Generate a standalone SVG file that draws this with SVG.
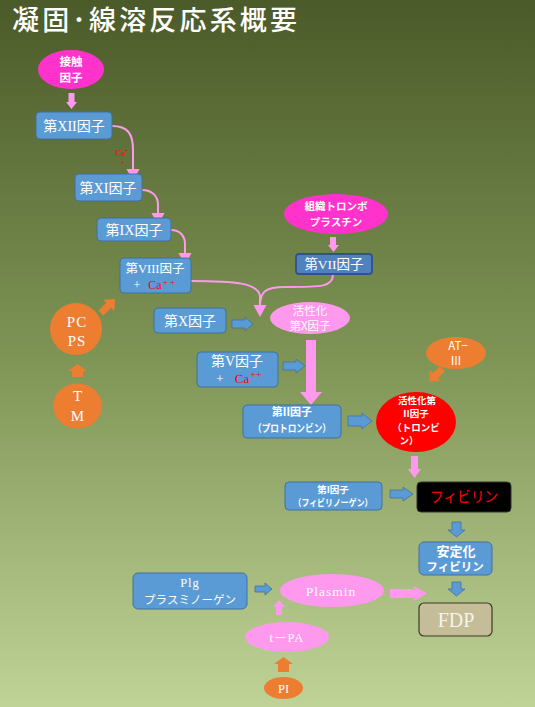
<svg xmlns="http://www.w3.org/2000/svg" width="535" height="707" viewBox="0 0 535 707">
<defs>
<linearGradient id="bg" x1="0" y1="0" x2="0" y2="1">
<stop offset="0" stop-color="#4b5a29"/>
<stop offset="0.5" stop-color="#7e9455"/>
<stop offset="1" stop-color="#bfd396"/>
</linearGradient>
<style>
.box{fill:#5b9bd5;stroke:#41719c;stroke-width:1}
.t{font-family:"Liberation Serif","Noto Sans CJK JP",serif;fill:#fff;text-anchor:middle}
.g{font-family:"Noto Sans CJK JP","Liberation Sans",sans-serif;fill:#fff;text-anchor:middle}
.red{fill:#ff0000}
.pink{fill:#ff99ee}
.mag{fill:#ff33cc}
.org{fill:#ed7d31}
.barr{fill:#5b9bd5;stroke:#41719c;stroke-width:0.8}
.pline{fill:none;stroke:#ff99ee;stroke-width:2}
</style>
</defs>
<rect x="0" y="0" width="535" height="707" fill="url(#bg)"/>
<text x="12" y="30" font-family="Noto Sans CJK JP, sans-serif" font-size="27" font-weight="500" fill="#fff" textLength="285">凝固･線溶反応系概要</text>

<g id="connectors">
<path class="pline" d="M112,126 C128,126 133,134 133,150 L133,170"/>
<polygon class="pink" points="126.5,169 139.5,169 133,181"/>
<path class="pline" d="M142,190 C152,190 158,196 158,205 L158,214"/>
<polygon class="pink" points="151.5,213 164.5,213 158,225"/>
<path class="pline" d="M171,230 C180,230 185,236 185,244 L185,254"/>
<polygon class="pink" points="178.5,253 191.5,253 185,265"/>
<path class="pline" d="M191,281 C235,281 258,283 260,296 L260,306"/>
<path class="pline" d="M333,274 C333,287 322,287 285,287 C265,287 260,292 260,306"/>
<polygon class="pink" points="253.5,305 266.5,305 260,317"/>
<polygon class="pink" points="68.5,93 74.5,93 74.5,102 77,102 71.5,109 66,102 68.5,102"/>
<polygon class="pink" points="330,237 336,237 336,245 339,245 333.5,252 328,245 330,245"/>
<polygon class="pink" points="306,340 316,340 316,392 322,392 311,405 300,392 306,392"/>
<polygon class="pink" points="411,456 418,456 418,469 421,469 414.5,478 408,469 411,469"/>
<polygon class="pink" points="390,589 414,589 414,586 427,593.5 414,601 414,598 390,598"/>
<polygon class="pink" points="276,615 282,615 282,607 285,607 279,600 273,607 276,607"/>
<polygon class="barr" points="232,320 245,320 245,317 253,324 245,331 245,328 232,328"/>
<polygon class="barr" points="283,362 296,362 296,359 305,366 296,373 296,370 283,370"/>
<polygon class="barr" points="348,416 362,416 362,413 372,421 362,429 362,426 348,426"/>
<polygon class="barr" points="390,490 403,490 403,487 413,494 403,501 403,498 390,498"/>
<polygon class="barr" points="452,522 461,522 461,530 465,530 456.5,537 448,530 452,530"/>
<polygon class="barr" points="452,582 461,582 461,589 465,589 456.5,596 448,589 452,589"/>
<polygon class="barr" points="255,586 265,586 265,583 272,589 265,595 265,592 255,592"/>
<polygon class="org" points="72,377 83,377 83,371 87,371 77.5,364 68,371 72,371"/>
<polygon class="org" points="278,672 289,672 289,664 293,664 283.5,657 274,664 278,664"/>
<polygon class="org" transform="translate(108,306) rotate(-45)" points="-10,-3.5 1,-3.5 1,-8 10,0 1,8 1,3.5 -10,3.5"/>
<polygon class="org" transform="translate(436,375) rotate(135)" points="-9,-3.5 1,-3.5 1,-8 9,0 1,8 1,3.5 -9,3.5"/>
<text x="122" y="156" font-family="Liberation Serif, serif" font-size="8.5" fill="#ff0000" text-anchor="middle">Ca<tspan dy="-3" font-size="6">+</tspan></text>
<text x="123" y="165" font-family="Liberation Serif, serif" font-size="6" fill="#ff0000" text-anchor="middle">+</text>
</g>

<g id="n-contact"><ellipse class="mag" cx="71" cy="69.5" rx="33" ry="19.5"/><text class="g" x="71" y="66" font-size="11.5" font-weight="bold">接触</text><text class="g" x="71" y="82" font-size="11.5" font-weight="bold">因子</text></g>
<g id="n-xii"><rect class="box" x="36" y="112" width="76" height="27" rx="4"/><text class="t" x="74" y="131" font-size="14">第XII因子</text></g>
<g id="n-xi"><rect class="box" x="75" y="174" width="67" height="27" rx="4"/><text class="t" x="108" y="193" font-size="14">第XI因子</text></g>
<g id="n-ix"><rect class="box" x="97" y="218" width="74" height="23" rx="4"/><text class="t" x="134" y="235" font-size="14">第IX因子</text></g>
<g id="n-viii"><rect class="box" x="120" y="258" width="71" height="35" rx="4"/><text class="t" x="155" y="273" font-size="12.5">第VIII因子</text><text class="t" x="137" y="289" font-size="12">+</text><text class="t" x="155" y="289" font-size="12" style="fill:#ff0000">Ca</text><text class="t" x="169" y="285" font-size="9" style="fill:#ff0000">+ +</text></g>
<g id="n-tissue"><ellipse class="mag" cx="336" cy="214" rx="52" ry="20"/><text class="g" x="336" y="210" font-size="10.5" font-weight="bold">組織トロンボ</text><text class="g" x="336" y="226" font-size="10.5" font-weight="bold">プラスチン</text></g>
<g id="n-vii"><rect x="296" y="254" width="76" height="20" rx="3" fill="#4f81bd" stroke="#2f528f" stroke-width="1.8"/><text class="t" x="334" y="269" font-size="13.5">第VII因子</text></g>
<g id="n-x"><rect class="box" x="154" y="308" width="72" height="25" rx="4"/><text class="t" x="190" y="326" font-size="14">第X因子</text></g>
<g id="n-xa"><ellipse class="pink" cx="310" cy="318" rx="40" ry="16"/><text class="g" x="310" y="314.5" font-size="11.5">活性化</text><text class="g" x="310" y="329.5" font-size="11.5">第X因子</text></g>
<g id="n-v"><rect class="box" x="197" y="352" width="81" height="35" rx="4"/><text class="t" x="237" y="366" font-size="14">第V因子</text><text class="t" x="220" y="383" font-size="13">+</text><text class="t" x="242" y="383" font-size="13" style="fill:#ff0000">Ca</text><text class="t" x="256" y="378" font-size="10" style="fill:#ff0000">++</text></g>
<g id="n-ii"><rect class="box" x="243" y="405" width="98" height="33" rx="4"/><text class="g" x="292" y="416" font-size="11" font-weight="bold">第II因子</text><text class="g" x="292" y="432" font-size="10.5" font-weight="bold" textLength="78" lengthAdjust="spacingAndGlyphs">（プロトロンビン）</text></g>
<g id="n-at"><ellipse class="org" cx="456" cy="353" rx="30" ry="16"/><text class="g" x="458" y="349.5" font-size="11.5">AT−</text><text class="g" x="456" y="364.5" font-size="11.5">Ⅲ</text></g>
<g id="n-thrombin"><ellipse class="red" cx="416" cy="422" rx="40" ry="30"/><text class="g" x="417" y="404" font-size="9.5" font-weight="bold">活性化第</text><text class="g" x="416" y="417" font-size="9.5" font-weight="bold">II因子</text><text class="g" x="416" y="431" font-size="9.5" font-weight="bold">（トロンビ</text><text class="g" x="409" y="444" font-size="9.5" font-weight="bold">ン）</text></g>
<g id="n-i"><rect class="box" x="285" y="482" width="97" height="28" rx="4"/><text class="g" x="333" y="492.5" font-size="9.5" font-weight="bold">第I因子</text><text class="g" x="333" y="506" font-size="9.5" font-weight="bold" textLength="79" lengthAdjust="spacingAndGlyphs">（フィビリノーゲン）</text></g>
<g id="n-fibrin"><rect x="417" y="482" width="94" height="30" rx="4" fill="#000" stroke="#333" stroke-width="1"/><text class="t" x="464" y="502" font-size="15" style="fill:#ff0000" textLength="68" lengthAdjust="spacingAndGlyphs">フィビリン</text></g>
<g id="n-stable"><rect class="box" x="419" y="542" width="73" height="33" rx="5"/><text class="g" x="456" y="555.5" font-size="13" font-weight="bold">安定化</text><text class="g" x="455" y="571" font-size="11.5" font-weight="bold">フィビリン</text></g>
<g id="n-fdp"><rect x="419" y="603" width="73" height="33" rx="5" fill="#c4bd97" stroke="#3a3a2a" stroke-width="1.2"/><text class="t" x="456" y="627" font-size="20" style="fill:#f4f4ee">FDP</text></g>
<g id="n-plasmin"><ellipse class="pink" cx="332" cy="590.5" rx="52" ry="16.5"/><text class="t" x="331" y="595.5" font-size="13.5" letter-spacing="1">Plasmin</text></g>
<g id="n-plg"><rect class="box" x="133" y="573" width="114" height="36" rx="5"/><text class="t" x="190" y="587" font-size="12.5" letter-spacing="1">Plg</text><text class="g" x="190" y="604" font-size="11.5">プラスミノーゲン</text></g>
<g id="n-tpa"><ellipse class="pink" cx="287" cy="637" rx="42" ry="15"/><text class="t" x="287" y="641.5" font-size="12.5" letter-spacing="1">t－PA</text></g>
<g id="n-pi"><ellipse class="org" cx="283.5" cy="688" rx="19.5" ry="11"/><text class="t" x="283.5" y="692.5" font-size="12.5">PI</text></g>
<g id="n-pcps"><circle class="org" cx="76" cy="329" r="26"/><text class="t" x="77" y="327" font-size="15" letter-spacing="1">PC</text><text class="t" x="77" y="346" font-size="15" letter-spacing="1">PS</text></g>
<g id="n-tm"><ellipse class="org" cx="77.5" cy="406" rx="24.5" ry="22.5"/><text class="t" x="77.5" y="401" font-size="15">T</text><text class="t" x="77.5" y="421" font-size="15">M</text></g>
</svg>
